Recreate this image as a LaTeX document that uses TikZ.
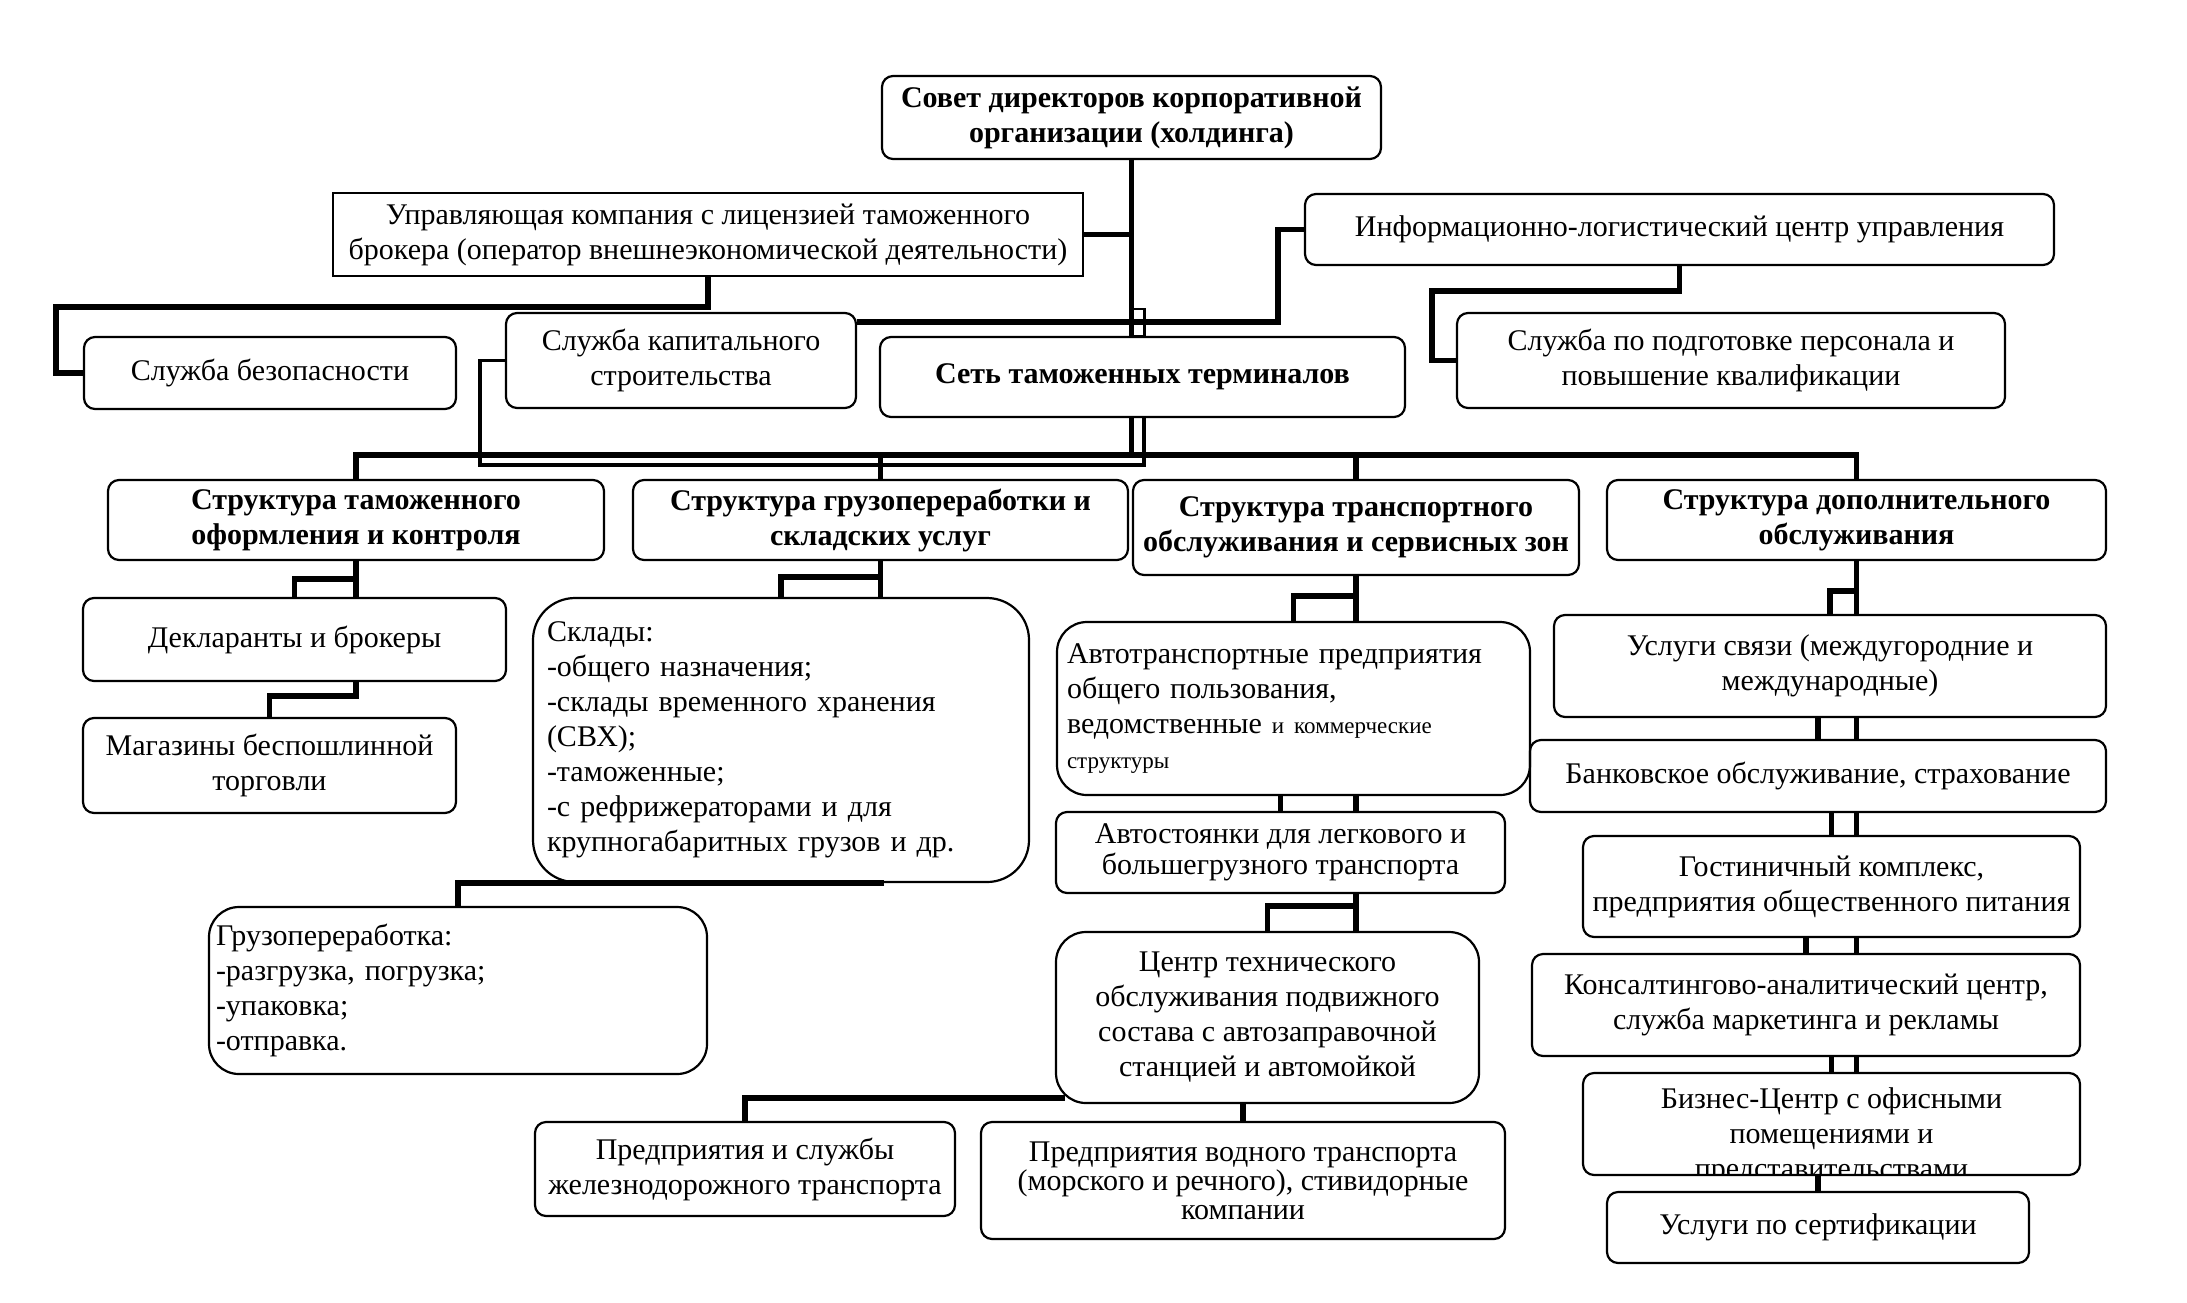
\documentclass[tikz,border=0pt]{standalone}
\usepackage{fontspec}
\setmainfont{Liberation Serif}
\usetikzlibrary{calc}
\newcommand\myfnt{\fontsize{30}{35}\selectfont}
\newcommand\mysmall{\fontsize{23}{27}\selectfont}
\tikzset{
  box/.style={draw, line width=2.2pt, rounded corners=11pt, inner sep=3pt, align=center, font=\myfnt},
  bbox/.style={box, font=\myfnt\bfseries},
  conn/.style={line width=5.5pt},
  conn2/.style={line width=3.5pt},
  thinl/.style={line width=2.2pt},
}
\begin{document}
\begin{tikzpicture}[x=1pt,y=-1pt]
\useasboundingbox (0,0) rectangle (2187,1302);
% top levels
\node[bbox, minimum width=499, minimum height=83] (sovet) at (1131.5,117.5) {Совет директоров корпоративной\\организации (холдинга)};
\node[box, sharp corners, minimum width=750, minimum height=83] (upr) at (708,234.5) {Управляющая компания с лицензией таможенного\\брокера (оператор внешнеэкономической деятельности)};
\node[box, minimum width=749, minimum height=71] (info) at (1679.5,229.5) {Информационно-логистический центр управления};
\node[box, minimum width=372, minimum height=72] (bez) at (270,373) {Служба безопасности};
\node[box, minimum width=350, minimum height=95] (kap) at (681,360.5) {Служба капитального\\строительства};
\node[bbox, minimum width=525, minimum height=80] (set) at (1142.5,377) {Сеть таможенных терминалов};
\node[box, minimum width=548, minimum height=95] (podg) at (1731,360.5) {Служба по подготовке персонала и\\повышение квалификации};
% structures
\node[bbox, minimum width=496, minimum height=80] (s1) at (356,520) {Структура таможенного\\оформления и контроля};
\node[bbox, minimum width=495, minimum height=80] (s2) at (880.5,520) {Структура грузопереработки и\\складских услуг};
\node[bbox, minimum width=446, minimum height=95] (s3) at (1356,527.5) {Структура транспортного\\обслуживания и сервисных зон};
\node[bbox, minimum width=499, minimum height=80] (s4) at (1856.5,520) {Структура дополнительного\\обслуживания};
% column 1
\node[box, minimum width=423, minimum height=83] (dekl) at (294.5,639.5) {Декларанты и брокеры};
\node[box, minimum width=373, minimum height=95] (mag) at (269.5,765.5) {Магазины беспошлинной\\торговли};
% column 2
\node[box, rounded corners=42pt, align=left, text width=468pt, inner xsep=14pt, minimum height=284] (sklad) at (781,740) {Склады:\\-общего назначения;\\-склады временного хранения\\(СВХ);\\-таможенные;\\-с рефрижераторами и для\\крупногабаритных грузов и др.};
\node[box, rounded corners=30pt, align=left, text width=484pt, inner xsep=7pt, minimum height=167] (gruz) at (458,990.5) {Грузопереработка:\\-разгрузка, погрузка;\\-упаковка;\\-отправка.};
% column 3
\node[box, rounded corners=30pt, align=left, text width=453pt, inner xsep=10pt, minimum height=173] (avto) at (1293.5,708.5) {Автотранспортные предприятия\\общего пользования,\\ведомственные {\mysmall и коммерческие}\\{\mysmall структуры}};
\node[box, minimum width=449, minimum height=81, font=\fontsize{30}{31}\selectfont] (stoy) at (1280.5,852.5) {Автостоянки для легкового и\\большегрузного транспорта};
\node[box, rounded corners=30pt, minimum width=423, minimum height=171] (centr) at (1267.5,1017.5) {Центр технического\\обслуживания подвижного\\состава с автозаправочной\\станцией и автомойкой};
\node[box, minimum width=420, minimum height=94] (zhd) at (745,1169) {Предприятия и службы\\железнодорожного транспорта};
\node[box, minimum width=524, minimum height=117, font=\fontsize{30}{29}\selectfont] (vod) at (1243,1180.5) {Предприятия водного транспорта\\(морского и речного), стивидорные\\компании};
% column 4
\node[box, minimum width=552, minimum height=102] (svyaz) at (1830,666) {Услуги связи (междугородние и\\международные)};
\node[box, minimum width=576, minimum height=72] (bank) at (1818,776) {Банковское обслуживание, страхование};
\node[box, minimum width=497, minimum height=101] (gost) at (1831.5,886.5) {Гостиничный комплекс,\\предприятия общественного питания};
\node[box, minimum width=548, minimum height=102] (kons) at (1806,1005) {Консалтингово-аналитический центр,\\служба маркетинга и рекламы};
\node[box, minimum width=497, minimum height=102,
  path picture={\node[font=\myfnt, align=center] at ([yshift=-12pt]path picture bounding box.center) {Бизнес-Центр с офисными\\помещениями и\\представительствами};}] (biz) at (1831.5,1124) {};
\node[box, minimum width=422, minimum height=71] (sert) at (1818,1227.5) {Услуги по сертификации};

% ---- connectors ----
\coordinate (bar) at (1131.5,455);
\coordinate (jE) at (1144,465);
\draw[conn] (sovet.south) -- (sovet.south |- set.north);
\draw[thinl] ($(sovet.south |- set.north)+(0,-27)$) rectangle ++(13,27);
\draw[conn] (upr.east) -- (upr.east -| sovet.south);
\draw[conn] (upr.south) -- ++(0,30) -| ([xshift=-27pt]bez.west) -- (bez.west);
\draw[conn] ([yshift=-10pt]kap.north east) -| ([xshift=-26pt]info.west) -- (info.west);
\draw[conn2] (kap.west) -- ++(-25,0) |- (jE) -- (jE |- set.south);
\draw[conn] (info.south) -- ++(0,25) -| ([xshift=-24pt]podg.west) -- (podg.west);
\draw[conn] (sovet.south |- set.south) -- (bar);
\draw[conn] (s1.north) |- (s4.north |- bar) -- (s4.north);
\draw[conn] (s2.north) -- (s2.north |- bar);
\draw[conn] (s3.north) -- (s3.north |- bar);
% column 1
\draw[conn] (s1.south) -- (s1.south |- dekl.north);
\draw[conn] (dekl.north) -- ++(0,-18) -| (s1.south);
\draw[conn] (s1.south |- dekl.south) -- ++(0,14) -| (mag.north);
% column 2
\draw[conn] (s2.south) -- (s2.south |- sklad.north);
\draw[conn] (sklad.north) -- ++(0,-20) -| (s2.south);
\draw[conn] ([xshift=103pt]sklad.south) -| (gruz.north);
% column 3
\draw[conn] (s3.south) -- (s3.south |- avto.north);
\draw[conn] (avto.north) -- ++(0,-25) -| (s3.south);
\draw[conn] (s3.south |- avto.south) -- (s3.south |- stoy.north);
\draw[conn] (stoy.north) -- (stoy.north |- avto.south);
\draw[conn] (s3.south |- stoy.south) -- (s3.south |- centr.north);
\draw[conn] (centr.north) -- ++(0,-25) -| (s3.south |- stoy.south);
\draw[conn] (vod.north) -- (vod.north |- centr.south);
\draw[conn] ([xshift=10pt,yshift=6pt]centr.south west) -| (zhd.north);
% column 4
\draw[conn] (s4.south) -- (s4.south |- svyaz.north);
\draw[conn] (svyaz.north) -- ++(0,-23) -| (s4.south);
\draw[conn] (s4.south |- svyaz.south) -- (s4.south |- bank.north);
\draw[conn] (bank.north) -- (bank.north |- svyaz.south);
\draw[conn] (s4.south |- bank.south) -- (s4.south |- gost.north);
\draw[conn] (gost.north) -- (gost.north |- bank.south);
\draw[conn] (s4.south |- gost.south) -- (s4.south |- kons.north);
\draw[conn] (kons.north) -- (kons.north |- gost.south);
\draw[conn] (s4.south |- kons.south) -- (s4.south |- biz.north);
\draw[conn] (biz.north) -- (biz.north |- kons.south);
\draw[conn] (sert.north) -- (sert.north |- biz.south);
\end{tikzpicture}
\end{document}
